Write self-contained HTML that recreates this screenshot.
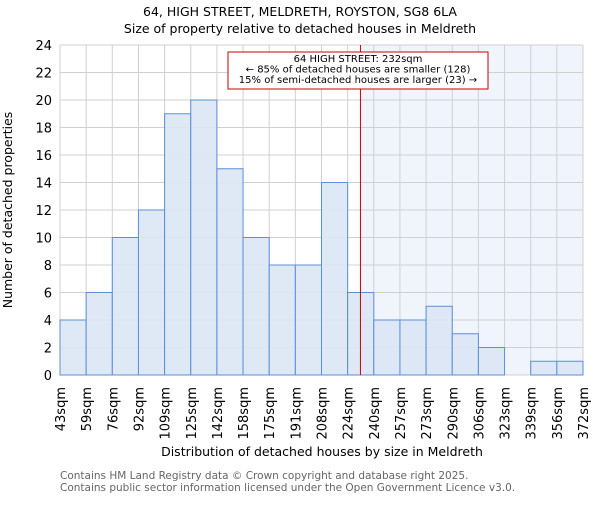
<!DOCTYPE html>
<html><head><meta charset="utf-8"><style>
body{margin:0;background:#fff;font-family:"Liberation Sans","DejaVu Sans",sans-serif}
svg text{font-family:"DejaVu Sans","Liberation Sans",sans-serif}
</style></head><body>
<svg id="chart" width="600" height="500" xmlns="http://www.w3.org/2000/svg">
<text x="300" y="16" text-anchor="middle" font-size="12.5">64, HIGH STREET, MELDRETH, ROYSTON, SG8 6LA</text>
<text x="300" y="33" text-anchor="middle" font-size="12.5">Size of property relative to detached houses in Meldreth</text>
<text transform="translate(12,210) rotate(-90)" text-anchor="middle" font-size="12.5">Number of detached properties</text>
<text x="322" y="456" text-anchor="middle" font-size="12.5">Distribution of detached houses by size in Meldreth</text>
<text x="60" y="479" font-size="10.5" fill="#666">Contains HM Land Registry data © Crown copyright and database right 2025.</text>
<text x="60" y="491" font-size="10.5" fill="#666">Contains public sector information licensed under the Open Government Licence v3.0.</text>
<g id="plot"></g>
</svg>
<script>
const binLabels=["43sqm","59sqm","76sqm","92sqm","109sqm","125sqm","142sqm","158sqm","175sqm","191sqm","208sqm","224sqm","240sqm","257sqm","273sqm","290sqm","306sqm","323sqm","339sqm","356sqm","372sqm"];
const counts=[4,6,10,12,19,20,15,10,8,8,14,6,4,4,5,3,2,0,1,1];
const yTicks=[0,2,4,6,8,10,12,14,16,18,20,22,24];
const minX=43, maxX=372, yMax=24;
const propertySize=232;
const L=60,R=583,T=45,B=375;
const NS="http://www.w3.org/2000/svg";
const g=document.getElementById('plot');
function xs(v){return L+(v-minX)/(maxX-minX)*(R-L);}
function ys(v){return B-v/yMax*(B-T);}
function el(t,a){const e=document.createElementNS(NS,t);for(const k in a)e.setAttribute(k,a[k]);g.appendChild(e);return e;}
const nb=counts.length, bw=(maxX-minX)/nb;
const hl=el('rect',{x:xs(propertySize),y:T,width:R-xs(propertySize),height:B-T,fill:'#f0f4fc'});


yTicks.forEach(t=>{const l=el('line',{x1:L,x2:R,y1:ys(t),y2:ys(t),stroke:'#d0d0d0','stroke-width':1});


const tx=el('text',{x:L-8,y:ys(t)+5,'text-anchor':'end','font-size':'13'});tx.textContent=t;

});
binLabels.forEach((lab,i)=>{const x=xs(minX+i*bw);
const l=el('line',{x1:x,x2:x,y1:T,y2:B,stroke:'#d0d0d0','stroke-width':1});


const tx=el('text',{transform:`translate(${x+5},${B+12}) rotate(-90)`,'text-anchor':'end','font-size':'13'});tx.textContent=lab;

});
counts.forEach((c,i)=>{if(c<=0)return;const x0=xs(minX+i*bw),x1=xs(minX+(i+1)*bw);
const r=el('rect',{x:x0,y:ys(c),width:x1-x0,height:ys(0)-ys(c),fill:'#dbe5f4','fill-opacity':0.9,stroke:'#5b8fd8','stroke-width':1});

});
const pl=el('line',{x1:xs(propertySize),x2:xs(propertySize),y1:T,y2:B,stroke:'#cc0000','stroke-width':1});


const box=el('rect',{x:228,y:52,width:260,height:37,fill:'#fff',stroke:'#cc0000','stroke-width':1});


["64 HIGH STREET: 232sqm","← 85% of detached houses are smaller (128)","15% of semi-detached houses are larger (23) →"].forEach((s,i)=>{
const t=el('text',{x:358,y:62+i*10.5,'text-anchor':'middle','font-size':'10'});t.textContent=s;

});
</script>
</body></html>
